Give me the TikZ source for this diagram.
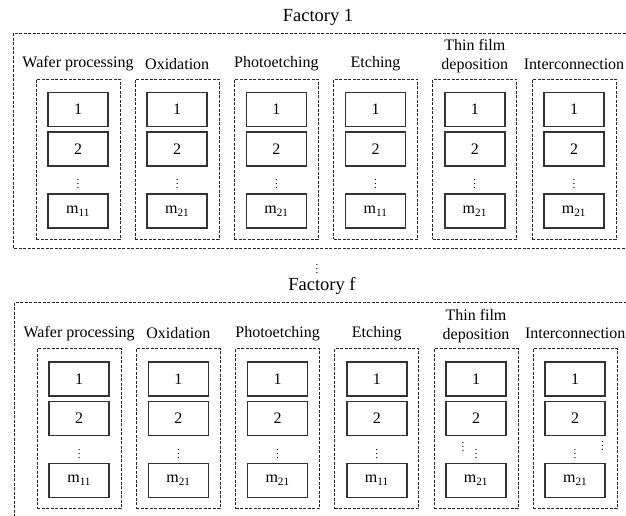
\documentclass[tikz,border=0pt]{standalone}
\usepackage{fontspec}
\setmainfont{Liberation Serif}
\begin{document}
\begin{tikzpicture}[x=1pt,y=-1pt,
  lbl/.style={font=\fontsize{16}{19}\selectfont, inner sep=0pt, align=center},
  ttl/.style={font=\fontsize{18.5}{20}\selectfont, inner sep=0pt},
  dbox/.style={draw=black!85, line width=1pt, dash pattern=on 3pt off 1.5pt},
  colbox/.style={dbox, minimum width=84pt, minimum height=160pt, inner sep=0pt},
  sbox/.style={draw=black!80, line width=1.5pt, minimum width=60pt, minimum height=34pt, inner sep=0pt, font=\fontsize{16}{17}\selectfont},
  dotsn/.style={inner sep=0pt, font=\fontsize{11}{11}\selectfont}]
\useasboundingbox (0,0) rectangle (626,515);
\clip (0,0) rectangle (626,515);
% factory titles and outer boxes
\node[ttl] (t1) at (318,17) {Factory 1};
\draw[dbox] (13,33) rectangle (660,248);
\node[dotsn] (between) at (317,266) {$\vdots$};
\node[ttl] (t2) at (322,286) {Factory f};
\draw[dbox] (14.5,302.5) rectangle (660,530);
% columns
\foreach \f/\dx/\dy in {1/0/0, 2/1.2/269.5}{
  \foreach \c/\lab/\ly/\m in {0/{Wafer processing}/64/11, 1/{Oxidation}/64/21, 2/{Photoetching}/64/21, 3/{Etching}/64/11, 4/{Thin film\\deposition}/56.5/21, 5/{Interconnection}/64/21}{
    \pgfmathsetmacro{\cx}{78+99.2*\c+\dx}
    \node[lbl] (f\f-l\c) at (\cx,\ly+\dy) {\lab};
    \node[colbox] (f\f-c\c) at (\cx,159+\dy) {};
    \node[sbox] (f\f-c\c-a) at (\cx,109.5+\dy) {1};
    \node[sbox] (f\f-c\c-b) at (\cx,149+\dy) {2};
    \node[sbox] (f\f-c\c-m) at (\cx,211+\dy) {m\textsubscript{\m}};
  }
}
% vertical ellipses
\foreach \c in {0,...,5}{
  \pgfmathsetmacro{\cx}{78+99.2*\c}
  \node[dotsn] (f1-d\c) at (\cx,181) {$\vdots$};
}
\foreach \c in {0,...,3}{
  \pgfmathsetmacro{\cx}{78+99.2*\c+1.2}
  \node[dotsn] (f2-d\c) at (\cx,450.5) {$\vdots$};
}
\node[dotsn] (f2-d4) at (476,450.5) {$\vdots$};
\node[dotsn] (f2-d4x) at (463,444) {$\vdots$};
\node[dotsn] (f2-d5) at (575,451) {$\vdots$};
\node[dotsn] (f2-d5x) at (602.5,443) {$\vdots$};
\end{tikzpicture}
\end{document}
